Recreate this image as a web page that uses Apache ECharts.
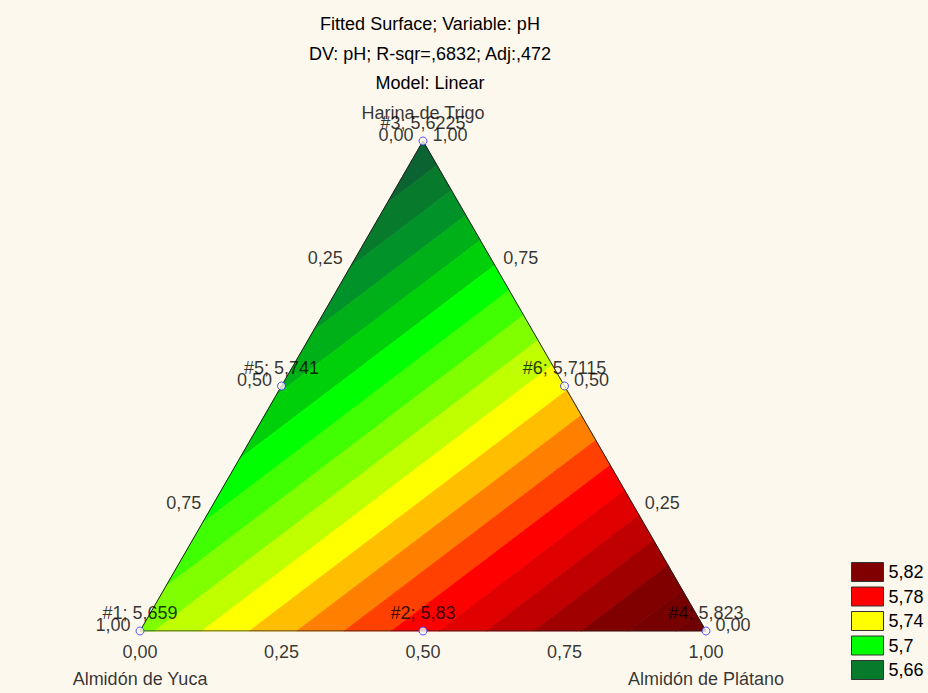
<!DOCTYPE html>
<html>
<head>
<meta charset="utf-8">
<title>Fitted Surface; Variable: pH</title>
<script src="https://cdn.jsdelivr.net/npm/echarts@6/dist/echarts.min.js"></script>
<style>
  html, body { margin: 0; padding: 0; background: #fdf8ee; }
  #chart { width: 928px; height: 693px; }
</style>
</head>
<body>
<div id="chart"></div>
<script>
// components of the mixture
const compYuca = 'Almidón de Yuca';
const compPlatano = 'Almidón de Plátano';
const compTrigo = 'Harina de Trigo';

// design runs: proportion of each component and measured pH
const runIds = [1, 2, 3, 4, 5, 6];
const yuca = [1, 0.5, 0, 0, 0.5, 0];
const platano = [0, 0.5, 0, 1, 0, 0.5];
const trigo = [0, 0, 1, 0, 0.5, 0.5];
const phValues = [5.659, 5.83, 5.6225, 5.823, 5.741, 5.7115];

// contour levels (band = [levels[i], levels[i+1]) )
const levels = [5.64, 5.65, 5.66, 5.67, 5.68, 5.69, 5.70, 5.71, 5.72, 5.73, 5.74,
  5.75, 5.76, 5.77, 5.78, 5.79, 5.80, 5.81, 5.82, 5.83, 5.84];
// levels shown in the legend
const legendLevels = [5.82, 5.78, 5.74, 5.70, 5.66];
// edge tick values
const tickValues = [0, 0.25, 0.5, 0.75, 1];

const titleLines = [
  'Fitted Surface; Variable: pH',
  'DV: pH; R-sqr=,6832; Adj:,472',
  'Model: Linear'
];

// colour of each band, keyed by its upper level
const bandPalette = ['#0b6331', '#077a2b', '#02922a', '#00b018', '#00d00a', '#00ff00',
  '#40ff00', '#80ff00', '#c0ff00', '#ffff00', '#ffbf00', '#ff8000', '#ff4000', '#ff0000',
  '#e00000', '#c00000', '#a00000', '#800000', '#770000', '#6e0000'];

const FONT = '"Liberation Sans", Arial, sans-serif';
const H = Math.sqrt(3) / 2;

const fmtNum = v => String(+v.toFixed(4)).replace('.', ',');
const fmtTick = v => v.toFixed(2).replace('.', ',');

// linear Scheffé model fitted by least squares: pH = b1*yuca + b2*platano + b3*trigo
function fitLinear() {
  const A = [[0, 0, 0], [0, 0, 0], [0, 0, 0]];
  const b = [0, 0, 0];
  phValues.forEach((y, i) => {
    const row = [yuca[i], platano[i], trigo[i]];
    for (let j = 0; j < 3; j++) {
      b[j] += row[j] * y;
      for (let k = 0; k < 3; k++) A[j][k] += row[j] * row[k];
    }
  });
  // gaussian elimination
  for (let c = 0; c < 3; c++) {
    for (let r = c + 1; r < 3; r++) {
      const f = A[r][c] / A[c][c];
      for (let k = c; k < 3; k++) A[r][k] -= f * A[c][k];
      b[r] -= f * b[c];
    }
  }
  const x = [0, 0, 0];
  for (let r = 2; r >= 0; r--) {
    let s = b[r];
    for (let k = r + 1; k < 3; k++) s -= A[r][k] * x[k];
    x[r] = s / A[r][r];
  }
  return x;
}
const coef = fitLinear();
const model = q => coef[0] * q[0] + coef[1] * q[1] + coef[2] * q[2];

// barycentric (yuca, platano, trigo) -> cartesian data coords
const toXY = q => [q[1] + q[2] * 0.5, q[2] * H];

// keep the part of a polygon (barycentric vertices) where test(q) >= 0
function clip(poly, test) {
  const out = [];
  for (let i = 0; i < poly.length; i++) {
    const p = poly[i], n = poly[(i + 1) % poly.length];
    const dp = test(p), dn = test(n);
    if (dp >= 0) out.push(p);
    if ((dp >= 0) !== (dn >= 0)) {
      const t = dp / (dp - dn);
      out.push([0, 1, 2].map(k => p[k] + t * (n[k] - p[k])));
    }
  }
  return out;
}
const triangle = [[1, 0, 0], [0, 1, 0], [0, 0, 1]];

const bandSeries = [];
for (let i = 0; i < levels.length - 1; i++) {
  const lo = levels[i], hi = levels[i + 1];
  let poly = clip(triangle, q => model(q) - lo);
  poly = clip(poly, q => hi - model(q));
  if (poly.length < 3) continue;
  const color = bandPalette[i];
  bandSeries.push({
    type: 'custom',
    name: fmtNum(hi),
    coordinateSystem: 'cartesian2d',
    silent: true,
    animation: false,
    z: 1,
    itemStyle: { color: color },
    data: [toXY([1 / 3, 1 / 3, 1 / 3])],
    renderItem: function (params, api) {
      return {
        type: 'polygon',
        shape: { points: poly.map(q => api.coord(toXY(q))) },
        style: { fill: color, stroke: color, lineWidth: 0.8 }
      };
    }
  });
}

// edge tick labels
const tickData = [];
tickValues.forEach(v => {
  // left edge: yuca proportion
  tickData.push({
    value: toXY([v, 0, 1 - v]),
    label: { formatter: fmtTick(v), position: 'left', distance: 9, offset: [0, -6] }
  });
  // right edge: trigo proportion
  tickData.push({
    value: toXY([0, 1 - v, v]),
    label: { formatter: fmtTick(v), position: 'right', distance: 9, offset: [0, -6] }
  });
  // bottom edge: platano proportion
  tickData.push({
    value: toXY([1 - v, v, 0]),
    label: { formatter: fmtTick(v), position: 'bottom', distance: 11 }
  });
});

const nameData = [
  { value: toXY([1, 0, 0]), label: { formatter: compYuca, position: 'bottom', distance: 38 } },
  { value: toXY([0, 1, 0]), label: { formatter: compPlatano, position: 'bottom', distance: 38 } },
  { value: toXY([0, 0, 1]), label: { formatter: compTrigo, position: 'top', distance: 19 } }
];

const pointData = runIds.map((id, i) => ({
  value: toXY([yuca[i], platano[i], trigo[i]]),
  label: { formatter: '#' + id + '; ' + fmtNum(phValues[i]) }
}));

const textStyle = { fontFamily: FONT, fontSize: 18, color: '#000' };

const chart = echarts.init(document.getElementById('chart'), null, { renderer: 'svg' });
chart.setOption({
  backgroundColor: '#fdf8ee',
  animation: false,
  grid: { left: 140, top: 141, width: 566, height: 490 },
  xAxis: { type: 'value', min: 0, max: 1, show: false },
  yAxis: { type: 'value', min: 0, max: H, show: false },
  graphic: titleLines.map((t, i) => ({
    type: 'text',
    x: 430,
    y: 24 + i * 29.5,
    style: {
      text: t, fill: '#000', font: '18px ' + FONT,
      align: 'center', verticalAlign: 'middle'
    }
  })),
  legend: {
    data: legendLevels.map(fmtNum),
    orient: 'vertical',
    left: 846,
    top: 557,
    itemWidth: 32,
    itemHeight: 19,
    itemGap: 4.5,
    icon: 'rect',
    selectedMode: false,
    itemStyle: { borderColor: '#333', borderWidth: 1 },
    textStyle: textStyle
  },
  series: bandSeries.concat([
    {
      type: 'line',
      name: 'outline',
      data: [toXY(triangle[0]), toXY(triangle[1]), toXY(triangle[2]), toXY(triangle[0])],
      symbol: 'none',
      silent: true,
      z: 3,
      lineStyle: { color: '#222', width: 1 }
    },
    {
      type: 'scatter',
      name: 'ticks',
      data: tickData,
      symbolSize: 1,
      silent: true,
      z: 4,
      itemStyle: { color: 'rgba(0,0,0,0)' },
      label: Object.assign({ show: true }, textStyle)
    },
    {
      type: 'scatter',
      name: 'names',
      data: nameData,
      symbolSize: 1,
      silent: true,
      z: 4,
      itemStyle: { color: 'rgba(0,0,0,0)' },
      label: Object.assign({ show: true }, textStyle)
    },
    {
      type: 'scatter',
      name: 'runs',
      data: pointData,
      symbol: 'circle',
      symbolSize: 8,
      silent: true,
      z: 5,
      itemStyle: { color: '#fdf8ee', borderColor: '#2f2fff', borderWidth: 1 },
      label: Object.assign({ show: true, position: 'top', distance: 5 }, textStyle)
    }
  ])
});
</script>
</body>
</html>
